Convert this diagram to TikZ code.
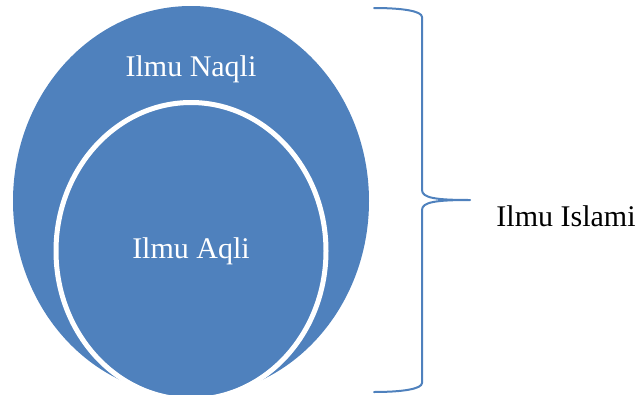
\documentclass[tikz,border=0pt]{standalone}
\usepackage{fontspec}
\setmainfont{Liberation Serif}
\definecolor{officeblue}{RGB}{79,129,189}
\begin{document}
\begin{tikzpicture}[x=1pt,y=-1pt,
  blob/.style={fill=officeblue},
  ring/.style={fill=officeblue,draw=white,line width=5pt},
  label/.style={font=\fontsize{30}{36}\selectfont,inner sep=0pt,anchor=base},
  bracket/.style={draw=officeblue,line width=2pt,line cap=round,line join=round}]
  \useasboundingbox (0,0) rectangle (640,394);
  \clip (0,0) rectangle (640,394);
  % outer set and the nested set inside it
  \fill[blob] (191,201) ellipse [x radius=178, y radius=195];
  \path[ring] (191,251) ellipse [x radius=135, y radius=148.5];
  \node[label,text=white] (naqli) at (191,76.5) {Ilmu Naqli};
  \node[label,text=white] (aqli) at (191,258) {Ilmu Aqli};
  % curly bracket grouping both sets
  \coordinate (btop) at (374,8);
  \coordinate (bbot) at (374,392);
  \coordinate (btip) at (470,200);
  \draw[bracket] (btop) .. controls (402,8) and (422,11) .. (422,17)
    -- (422,190) .. controls (422,198) and (436,200) .. (btip)
    .. controls (436,200) and (422,202) .. (422,210)
    -- (422,383) .. controls (422,389) and (402,392) .. (bbot);
  \node[label,text=black] (islami) at (566,226) {Ilmu Islami};
\end{tikzpicture}
\end{document}
